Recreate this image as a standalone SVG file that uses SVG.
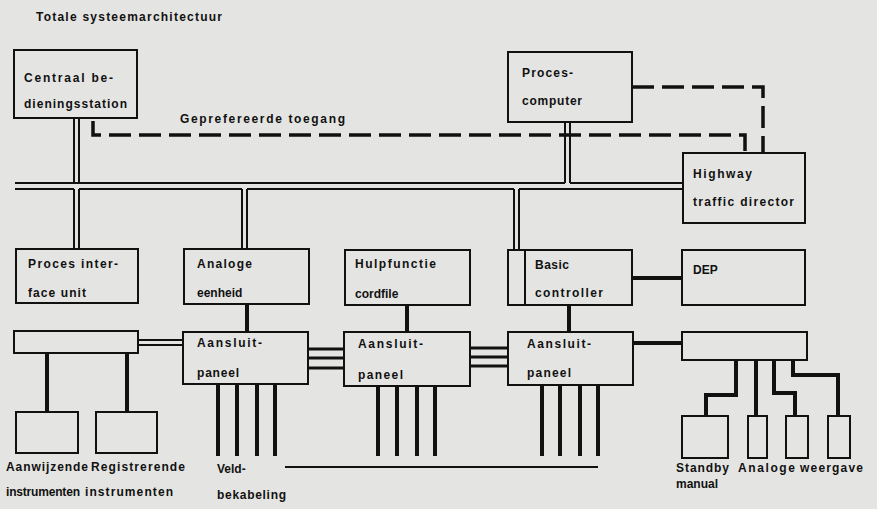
<svg xmlns="http://www.w3.org/2000/svg" width="877" height="509" viewBox="0 0 877 509">
<style>
.bx{fill:none;stroke:#111;stroke-width:2}
.t{font-family:"Liberation Sans",Arial,sans-serif;font-weight:bold;font-size:12px;fill:#111}
.ln{stroke:#111;stroke-width:2;fill:none}
.tk{stroke:#111;stroke-width:4;fill:none}
.md{stroke:#111;stroke-width:3;fill:none}
.ds{stroke:#111;stroke-width:3.5;fill:none;stroke-dasharray:22 8}
</style>
<rect width="877" height="509" fill="#e4e4e2"/>
<text class="t" x="36" y="21" textLength="186" lengthAdjust="spacing">Totale systeemarchitectuur</text>

<g id="connectors">
  <path class="ln" d="M15,183 H565 M570,183 H683"/>
  <path class="ln" d="M15,189 H74 M79,189 H242 M247,189 H514 M519,189 H683"/>
  <path class="ln" d="M74,118 V183 M79,118 V183"/>
  <path class="ln" d="M565,122 V183 M570,122 V183"/>
  <path class="ln" d="M74,189 V249 M79,189 V249"/>
  <path class="ln" d="M242,189 V249 M247,189 V249"/>
  <path class="ln" d="M514,189 V250 M519,189 V250"/>
  <path class="ds" d="M93,121 V135 H745 V153"/>
  <path class="ds" d="M632,87 H763 V153"/>
  <path class="tk" d="M247,304 V332"/>
  <path class="tk" d="M407,305 V332"/>
  <path class="tk" d="M569,305 V332"/>
  <path class="tk" d="M632,278 H682"/>
  <path class="ln" d="M138,340 H183 M138,345 H183"/>
  <path class="md" d="M308,349 H344 M308,358 H344 M308,368 H344"/>
  <path class="md" d="M470,348 H508 M470,357 H508 M470,366 H508"/>
  <path class="tk" d="M633,343 H682"/>
  <path class="tk" d="M47,353 V412 M127,353 V412"/>
  <path class="tk" d="M218,384 V456 M237,384 V456 M257,384 V456 M275,384 V456"/>
  <path class="tk" d="M378,386 V456 M397,386 V456 M417,386 V456 M435,386 V456"/>
  <path class="tk" d="M542,385 V456 M560,385 V456 M580,385 V456 M598,385 V456"/>
  <path class="ln" d="M285,467 H598"/>
  <path class="tk" d="M736,360 V395 H706 V416"/>
  <path class="tk" d="M756,360 V416"/>
  <path class="tk" d="M774,360 V393 H795 V416"/>
  <path class="tk" d="M793,360 V375 H838 V416"/>
</g>

<text class="t" x="180" y="123" textLength="165" lengthAdjust="spacing">Geprefereerde toegang</text>

<g id="centraal">
  <rect class="bx" x="14" y="50" width="123" height="68"/>
  <text class="t" x="24" y="82" textLength="89" lengthAdjust="spacing">Centraal be-</text>
  <text class="t" x="24" y="108" textLength="103" lengthAdjust="spacing">dieningsstation</text>
</g>
<g id="procescomputer">
  <rect class="bx" x="508" y="52" width="124" height="70"/>
  <text class="t" x="522" y="77" textLength="51" lengthAdjust="spacing">Proces-</text>
  <text class="t" x="522" y="105" textLength="60" lengthAdjust="spacing">computer</text>
</g>
<g id="highway">
  <rect class="bx" x="683" y="153" width="122" height="70"/>
  <text class="t" x="693" y="178" textLength="59" lengthAdjust="spacing">Highway</text>
  <text class="t" x="693" y="206" textLength="101" lengthAdjust="spacing">traffic director</text>
</g>
<g id="piu">
  <rect class="bx" x="16" y="249" width="122" height="54"/>
  <text class="t" x="28" y="268" textLength="90" lengthAdjust="spacing">Proces inter-</text>
  <text class="t" x="28" y="297" textLength="58" lengthAdjust="spacing">face unit</text>
</g>
<g id="analoge">
  <rect class="bx" x="184" y="249" width="125" height="55"/>
  <text class="t" x="197" y="268" textLength="55" lengthAdjust="spacing">Analoge</text>
  <text class="t" x="197" y="297">eenheid</text>
</g>
<g id="hulpfunctie">
  <rect class="bx" x="345" y="250" width="125" height="55"/>
  <text class="t" x="355" y="268" textLength="81" lengthAdjust="spacing">Hulpfunctie</text>
  <text class="t" x="355" y="298">cordfile</text>
</g>
<g id="basic">
  <rect class="bx" x="508" y="250" width="124" height="55"/>
  <path class="ln" d="M525,250 V305"/>
  <text class="t" x="535" y="269" textLength="34" lengthAdjust="spacing">Basic</text>
  <text class="t" x="535" y="297" textLength="68" lengthAdjust="spacing">controller</text>
</g>
<g id="dep">
  <rect class="bx" x="682" y="250" width="123" height="55"/>
  <text class="t" x="693" y="274">DEP</text>
</g>
<g id="leftbar">
  <rect class="bx" x="14" y="331" width="124" height="22"/>
</g>
<g id="paneel1">
  <rect class="bx" x="183" y="332" width="125" height="52"/>
  <text class="t" x="197" y="347" textLength="65" lengthAdjust="spacing">Aansluit-</text>
  <text class="t" x="197" y="377" textLength="42" lengthAdjust="spacing">paneel</text>
</g>
<g id="paneel2">
  <rect class="bx" x="344" y="332" width="126" height="54"/>
  <text class="t" x="358" y="348" textLength="65" lengthAdjust="spacing">Aansluit-</text>
  <text class="t" x="358" y="379" textLength="45" lengthAdjust="spacing">paneel</text>
</g>
<g id="paneel3">
  <rect class="bx" x="508" y="332" width="125" height="53"/>
  <text class="t" x="527" y="348" textLength="64" lengthAdjust="spacing">Aansluit-</text>
  <text class="t" x="527" y="377" textLength="44" lengthAdjust="spacing">paneel</text>
</g>
<g id="rightbar">
  <rect class="bx" x="682" y="332" width="125" height="28"/>
</g>
<g id="aanwijzende">
  <rect class="bx" x="16" y="412" width="62" height="41"/>
  <text class="t" x="6" y="471" textLength="82" lengthAdjust="spacing">Aanwijzende</text>
  <text class="t" x="6" y="496" textLength="74" lengthAdjust="spacing">instrumenten</text>
</g>
<g id="registrerende">
  <rect class="bx" x="96" y="412" width="61" height="41"/>
  <text class="t" x="91" y="471" textLength="94" lengthAdjust="spacing">Registrerende</text>
  <text class="t" x="85" y="496" textLength="88" lengthAdjust="spacing">instrumenten</text>
</g>
<g id="veldbekabeling">
  <text class="t" x="217" y="473">Veld-</text>
  <text class="t" x="217" y="499" textLength="69" lengthAdjust="spacing">bekabeling</text>
</g>
<g id="standby">
  <rect class="bx" x="682" y="416" width="46" height="42"/>
  <text class="t" x="676" y="472" textLength="53" lengthAdjust="spacing">Standby</text>
  <text class="t" x="676" y="488">manual</text>
</g>
<g id="weergave">
  <rect class="bx" x="748" y="416" width="19" height="42"/>
  <rect class="bx" x="786" y="416" width="22" height="42"/>
  <rect class="bx" x="828" y="416" width="22" height="42"/>
  <text class="t" x="738" y="472" textLength="57" lengthAdjust="spacing">Analoge</text>
  <text class="t" x="800" y="472" textLength="63" lengthAdjust="spacing">weergave</text>
</g>
</svg>
